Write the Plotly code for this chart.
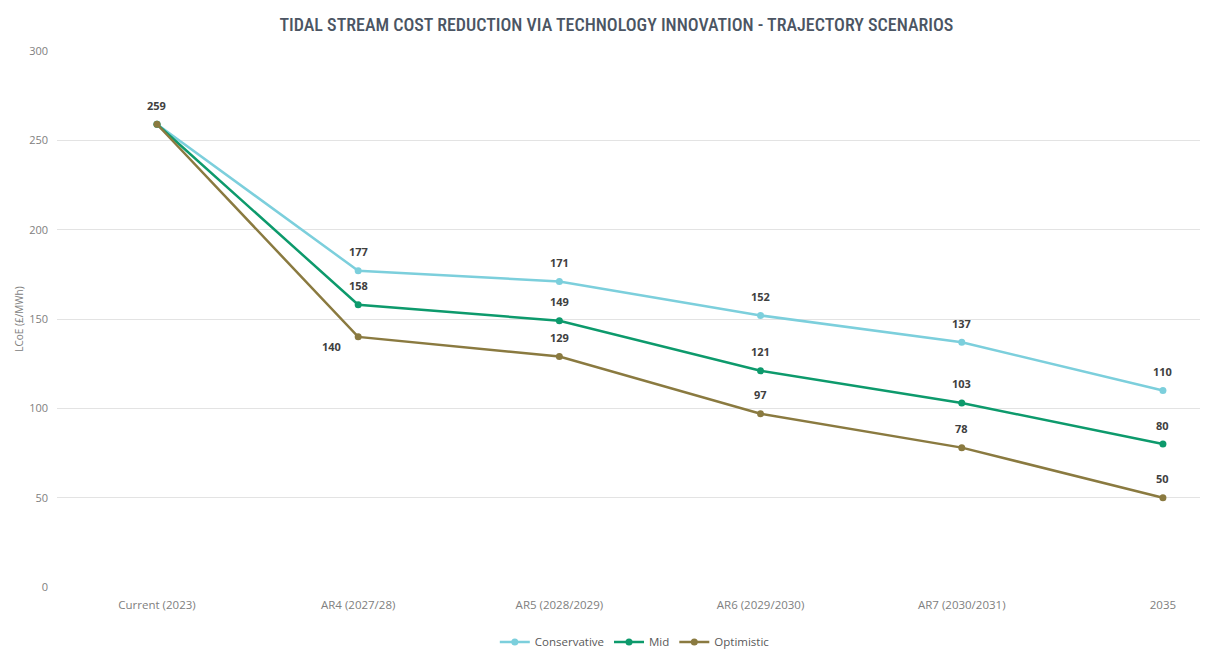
import plotly.graph_objects as go

categories = ["Current (2023)", "AR4 (2027/28)", "AR5 (2028/2029)", "AR6 (2029/2030)", "AR7 (2030/2031)", "2035"]
conservative = [259, 177, 171, 152, 137, 110]
mid = [259, 158, 149, 121, 103, 80]
optimistic = [259, 140, 129, 97, 78, 50]
y_ticks = [0, 50, 100, 150, 200, 250, 300]

series = [
    ("Conservative", conservative, "#7ccfdc"),
    ("Mid", mid, "#0d9a6c"),
    ("Optimistic", optimistic, "#8a7a40"),
]

fig = go.Figure()
for name, vals, col in series:
    fig.add_trace(go.Scatter(
        x=list(range(len(categories))), y=vals, name=name, mode="lines+markers",
        line=dict(color=col, width=2.5), marker=dict(color=col, size=7),
    ))

# data labels
label_font = dict(family="Open Sans", size=11, color="#404040")
for name, vals, col in series:
    for i, v in enumerate(vals):
        if i == 0 and name != "Optimistic":
            continue
        xs, ys = 0, 19
        if name == "Optimistic" and i == 1:
            xs, ys = -27, -10
        fig.add_annotation(x=i, y=v, text=f"<b>{v}</b>", showarrow=False,
                           xshift=xs, yshift=ys, font=label_font)

# the page body has an 8px margin; figure sized to compensate
fig.update_layout(
    width=1200, height=652,
    paper_bgcolor="white", plot_bgcolor="white",
    margin=dict(l=49, r=0, t=43, b=73),
    title=dict(text="<span style='font-stretch:condensed'>TIDAL STREAM COST REDUCTION VIA TECHNOLOGY INNOVATION - TRAJECTORY SCENARIOS</span>",
               x=0.507, xanchor="center", y=0.975, yanchor="middle",
               font=dict(family="Roboto", size=18, weight=500, color="#4b5563")),
    xaxis=dict(range=[-0.497, 5.224], tickvals=list(range(len(categories))), ticktext=categories,
               showgrid=False, zeroline=False, showline=False, ticks="", ticklabelstandoff=9,
               tickfont=dict(family="Open Sans", size=11.5, color="#808080")),
    yaxis=dict(range=[0, 300], tickvals=y_ticks, showgrid=True, gridcolor="#e3e3e3", gridwidth=1,
               zeroline=False, showline=False, ticks="", ticklabelstandoff=8,
               tickfont=dict(family="Open Sans", size=11, color="#808080"),
               title=dict(text="LCoE (£/MWh)", font=dict(family="Open Sans", size=10, color="#808080"),
                          standoff=3)),
    legend=dict(orientation="h", x=0.502, xanchor="center", y=-0.1026, yanchor="middle",
                font=dict(family="Open Sans", size=11.5, color="#595959"), itemwidth=30,
                tracegroupgap=0),
    showlegend=True,
)

fig.write_html("out.html")
